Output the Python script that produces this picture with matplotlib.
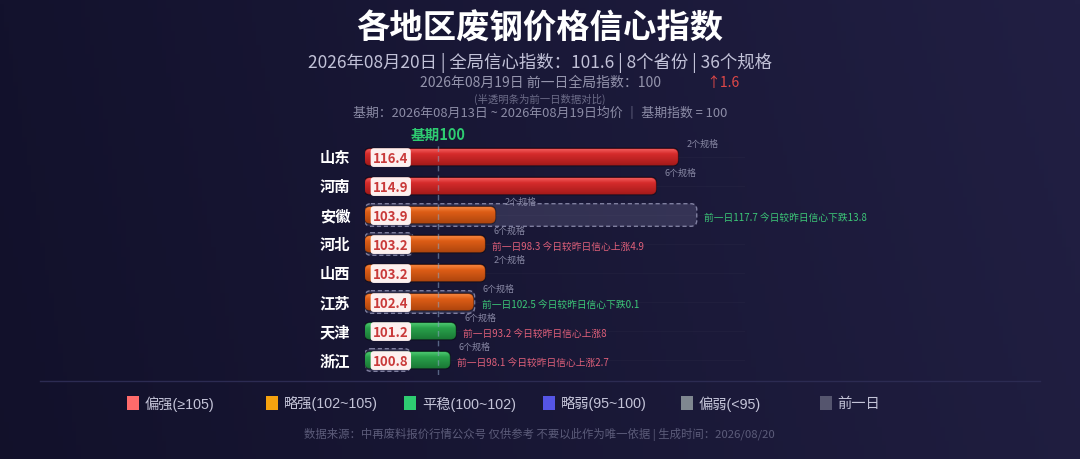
import matplotlib
matplotlib.use('Agg')
import matplotlib.pyplot as plt
import numpy as np
from matplotlib.patches import FancyBboxPatch, Rectangle
from matplotlib.colors import to_rgb
from matplotlib.lines import Line2D

plt.rcParams['font.family'] = ['Noto Sans CJK SC', 'DejaVu Sans']

# ---------------- data ----------------
provinces = ['山东', '河南', '安徽', '河北', '山西', '江苏', '天津', '浙江']
values = [116.4, 114.9, 103.9, 103.2, 103.2, 102.4, 101.2, 100.8]
prev_values = [None, None, 117.7, 98.3, None, 102.5, 93.2, 98.1]
spec_counts = [2, 6, 2, 6, 2, 6, 6, 6]
base_index = 100

title = '各地区废钢价格信心指数'
subtitle = '2026年08月20日 | 全局信心指数：101.6 | 8个省份 | 36个规格'
prev_line = '2026年08月19日 前一日全局指数：100'
prev_change = '↑1.6'
note_line = '(半透明条为前一日数据对比)'
base_line = '基期：2026年08月13日 ~ 2026年08月19日均价 ｜ 基期指数 = 100'
base_label = '基期100'
footer = '数据来源：中再废料报价行情公众号 仅供参考 不要以此作为唯一依据 | 生成时间：2026/08/20'

legend_labels = ['偏强(≥105)', '略强(102~105)', '平稳(100~102)', '略弱(95~100)', '偏弱(<95)', '前一日']
legend_colors = ['#ff6b6b', '#f5a20f', '#2ecc71', '#5555e6', '#7f8790', '#55556e']

# bar gradients (top highlight, base, bottom shade)
bar_palettes = {
    'strong': ('#f25a5a', '#d52b2b', '#a61b1b'),
    'mild': ('#f5843c', '#dd5d16', '#b0460e'),
    'stable': ('#4cc870', '#29a14b', '#1b7a36'),
    'weak': ('#7a7af0', '#5555e6', '#3a3ab0'),
    'vweak': ('#9aa2aa', '#7f8790', '#5f666e'),
}

def level(v):
    if v >= 105:
        return 'strong'
    if v >= 102:
        return 'mild'
    if v >= 100:
        return 'stable'
    if v >= 95:
        return 'weak'
    return 'vweak'

# ---------------- figure ----------------
W, H = 1080, 460
fig = plt.figure(figsize=(W / 100, H / 100), dpi=100)

def fx(px):
    return px / W

def fy(py):
    return 1 - py / H

# background gradient
bg = fig.add_axes([0, 0, 1, 1])
bg.axis('off')
nx, ny = 240, 100
c_left = np.array(to_rgb('#13122d'))
c_right = np.array(to_rgb('#211f43'))
tx = np.linspace(0, 1, nx)[None, :, None]
ty = np.linspace(0, 1, ny)[:, None, None]
img = c_left * (1 - tx) + c_right * tx
img = img * (1 - 0.05 * ty)
bg.imshow(np.clip(img, 0, 1), aspect='auto', extent=[0, 1, 0, 1], origin='upper')
bg.set_xlim(0, 1)
bg.set_ylim(0, 1)

# main axes
xmin, xmax = 95, 121
ax_left, ax_right = 365, 745
row0, row_step = 158, 29
n = len(provinces)
ax_top_px = row0 - row_step * 0.5
ax_bot_px = row0 + row_step * (n - 0.5)
ax = fig.add_axes([fx(ax_left), fy(ax_bot_px), (ax_right - ax_left) / W, (ax_bot_px - ax_top_px) / H])
ax.set_xlim(xmin, xmax)
ax.set_ylim(n - 0.5, -0.5)
ax.axis('off')
ax.patch.set_alpha(0)

px_per_x = (ax_right - ax_left) / (xmax - xmin)
aspect = px_per_x / row_step

ypos = np.arange(n)
# faint row lines
ax.hlines(ypos, xmin, xmax, color=(1, 1, 1, 0.025), lw=1, zorder=0)

bar_h = 0.55
ghost_h = 0.78

# previous-day ghost bars
for i, pv in enumerate(prev_values):
    if pv is None or pv <= xmin:
        continue
    g = FancyBboxPatch((xmin, i - ghost_h / 2), pv - xmin, ghost_h,
                       boxstyle='round,pad=0,rounding_size=0.4', mutation_aspect=aspect,
                       facecolor=(0.62, 0.62, 0.78, 0.20), edgecolor=(0.62, 0.62, 0.75, 0.75),
                       lw=1.0, ls=(0, (3, 2)), zorder=2)
    ax.add_patch(g)

# current bars
bars = ax.barh(ypos, [v - xmin for v in values], left=xmin, height=bar_h, color='none', edgecolor='none')
for i, (b, v) in enumerate(zip(bars, values)):
    x0, y0, w, h = b.get_x(), b.get_y(), b.get_width(), b.get_height()
    b.set_visible(False)
    top, base, bot = bar_palettes[level(v)]
    # shadow
    sh = FancyBboxPatch((x0 - 0.08, y0 - 0.05), w + 0.16, h + 0.10,
                        boxstyle='round,pad=0,rounding_size=0.4', mutation_aspect=aspect,
                        facecolor=(0, 0, 0, 0.35), edgecolor='none', zorder=3)
    ax.add_patch(sh)
    p = FancyBboxPatch((x0, y0), w, h, boxstyle='round,pad=0,rounding_size=0.35',
                       mutation_aspect=aspect, facecolor=base,
                       edgecolor=tuple(np.array(to_rgb(bot)) * 0.8), lw=0.8, zorder=4)
    ax.add_patch(p)
    stops = np.array([0, 0.3, 1.0])
    cols = np.array([to_rgb(top), to_rgb(base), to_rgb(bot)])
    tt = np.linspace(0, 1, 50)
    grad = np.stack([np.interp(tt, stops, cols[:, k]) for k in range(3)], axis=-1)[:, None, :]
    im = ax.imshow(grad, extent=[x0, x0 + w, y0 + h, y0], origin='upper', aspect='auto', zorder=4.5)
    im.set_clip_path(p)
    # value label
    ax.text(xmin + 0.55, i + 0.02, f'{v:.1f}', ha='left', va='center', fontsize=9.5,
            fontweight='bold', color='#c93a3a', zorder=6,
            bbox=dict(boxstyle='round,pad=0.18,rounding_size=0.25', fc='#fdf0ef', ec='none'))
    # spec count label
    ax.text(v + 0.62, i - 0.47, f'{spec_counts[i]}个规格', ha='left', va='center',
            fontsize=6.5, color='#8686a2', zorder=6, clip_on=False)
    # province label
    ax.text(xmin - 1.0, i, provinces[i], ha='right', va='center', fontsize=11,
            fontweight='bold', color='white', clip_on=False)
    # comparison annotation
    pv = prev_values[i]
    if pv is not None:
        d = round(v - pv, 1)
        if d >= 0:
            txt = f'前一日{pv:g} 今日较昨日信心上涨{abs(d):g}'
            col = '#e0607a'
        else:
            txt = f'前一日{pv:g} 今日较昨日信心下跌{abs(d):g}'
            col = '#3cc878'
        ax.text(max(v, pv) + 0.5, i + 0.06, txt, ha='left', va='center', fontsize=7,
                color=col, zorder=6, clip_on=False)

ax.set_xlim(xmin, xmax)
ax.set_ylim(n - 0.5, -0.5)

# base line
ax.axvline(base_index, color=(0.55, 0.65, 0.78, 0.55), lw=1, ls=(0, (4, 3)), zorder=5)
ax.text(base_index, -0.78, base_label, ha='center', va='center', fontsize=10.5,
        fontweight='bold', color='#2ecc71', clip_on=False)

# ---------------- header texts ----------------
fig.text(0.5, fy(29), title, ha='center', va='center', fontsize=24, fontweight='bold', color='white')
fig.text(0.5, fy(63), subtitle, ha='center', va='center', fontsize=12.5, color='#c2c2d8')
fig.text(fx(540), fy(83), prev_line, ha='center', va='center', fontsize=10, color='#9494ac')
fig.text(fx(723), fy(83), prev_change, ha='center', va='center', fontsize=10, color='#e04848')
fig.text(fx(540), fy(99), note_line, ha='center', va='center', fontsize=7.5, color='#6c6c88')
fig.text(fx(540), fy(114), base_line, ha='center', va='center', fontsize=9.3, color='#8c8ca6')

# separator
fig.add_artist(Line2D([fx(40), fx(1040)], [fy(382), fy(382)], color='#2c2b52', lw=1))

# legend
for k, (lab, col) in enumerate(zip(legend_labels, legend_colors)):
    x = 127 + 138.5 * k
    fig.add_artist(Rectangle((fx(x), fy(411)), 12 / W, 14 / H, facecolor=col, edgecolor='none'))
    fig.text(fx(x + 18), fy(404), lab, ha='left', va='center', fontsize=10.3, color='#c4c4d8',
             family=['Liberation Sans', 'Noto Sans CJK SC', 'DejaVu Sans'])

# footer
fig.text(fx(539), fy(434), footer, ha='center', va='center', fontsize=8.2, color='#5c5c7a')

fig.savefig('out.png', dpi=100, facecolor='#15142f')
